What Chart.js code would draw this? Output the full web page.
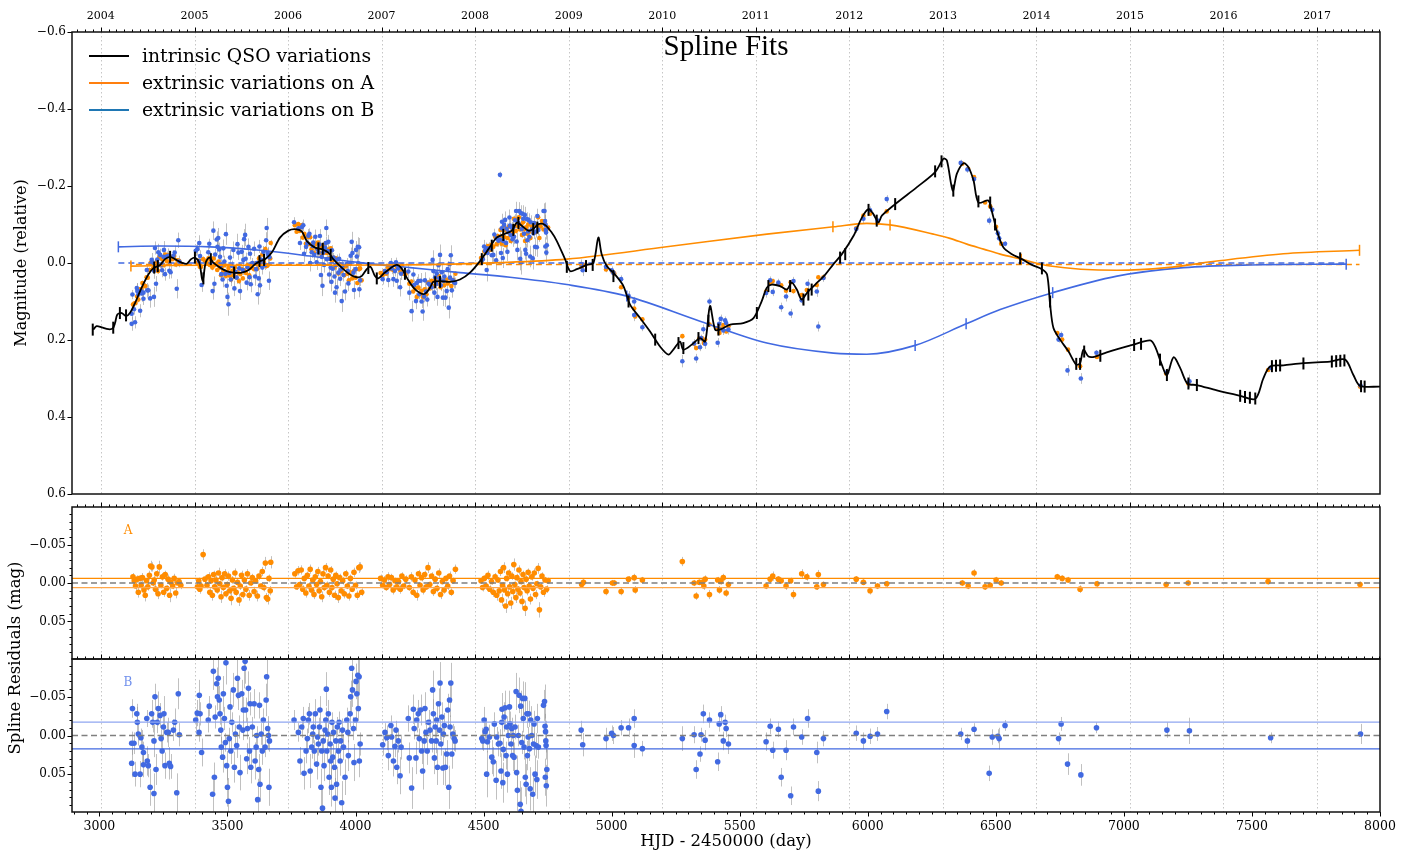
<!DOCTYPE html>
<html><head><meta charset="utf-8">
<script src="https://cdn.jsdelivr.net/npm/chart.js@4.4.1/dist/chart.umd.min.js"></script>
<style>
html,body{margin:0;padding:0;background:#fff;}
#wrap{position:relative;width:1413px;height:854px;overflow:hidden;}
canvas{position:absolute;left:0;top:0;pointer-events:none;}
</style></head><body>
<div id="wrap">
<canvas id="c1" width="1413" height="854"></canvas>
<canvas id="c2" width="1413" height="854"></canvas>
<canvas id="c3" width="1413" height="854"></canvas>
</div>
<script>
// ---------------- DATA ----------------
const yearHJD = [3005.5,3371.5,3736.5,4101.5,4466.5,4832.5,5197.5,5562.5,5927.5,6293.5,6658.5,7023.5,7388.5,7754.5];
const yearLabels = ['2004','2005','2006','2007','2008','2009','2010','2011','2012','2013','2014','2015','2016','2017'];
const magTicks = [-0.6,-0.4,-0.2,0.0,0.2,0.4,0.6];
const resTicks = [-0.05,0.0,0.05];
const resMinor = [-0.09,-0.08,-0.07,-0.06,-0.04,-0.03,-0.02,-0.01,0.01,0.02,0.03,0.04,0.06,0.07,0.08,0.09];
const hjdTicks = [3000,3500,4000,4500,5000,5500,6000,6500,7000,7500,8000];
const legendLabels = ['intrinsic QSO variations','extrinsic variations on A','extrinsic variations on B'];

// intrinsic QSO spline [HJD, mag]
const intrinsic = [[2976,0.173],[2989,0.164],[3009,0.167],[3035,0.172],[3052,0.170],[3061,0.156],[3070,0.134],[3087,0.130],[3104,0.138],[3119,0.130],[3139,0.104],[3165,0.064],[3191,0.030],[3210,0.014],[3237,0.005],[3256,-0.010],[3276,-0.016],[3295,-0.010],[3321,-0.001],[3341,0.002],[3358,-0.010],[3373,-0.014],[3390,-0.001],[3403,0.047],[3415,-0.001],[3429,-0.014],[3445,-0.001],[3471,0.012],[3497,0.021],[3523,0.025],[3556,0.025],[3581,0.019],[3608,0.003],[3627,-0.005],[3647,-0.010],[3673,-0.027],[3705,-0.066],[3738,-0.084],[3764,-0.088],[3790,-0.082],[3810,-0.057],[3842,-0.040],[3868,-0.036],[3894,-0.027],[3913,-0.010],[3946,0.012],[3979,0.030],[4005,0.037],[4024,0.034],[4044,0.016],[4059,0.010],[4076,0.034],[4089,0.040],[4109,0.028],[4135,0.014],[4161,0.005],[4180,0.014],[4200,0.038],[4226,0.064],[4252,0.078],[4271,0.080],[4291,0.064],[4304,0.049],[4330,0.047],[4369,0.049],[4408,0.043],[4447,0.025],[4486,-0.005],[4519,-0.036],[4551,-0.066],[4584,-0.076],[4610,-0.084],[4630,-0.105],[4649,-0.097],[4675,-0.084],[4694,-0.088],[4714,-0.101],[4740,-0.099],[4766,-0.079],[4786,-0.057],[4818,-0.010],[4838,0.021],[4864,0.016],[4903,0.005],[4929,-0.001],[4948,-0.066],[4961,-0.023],[4981,0.008],[5013,0.030],[5046,0.060],[5072,0.108],[5111,0.143],[5150,0.178],[5189,0.217],[5222,0.238],[5241,0.225],[5267,0.204],[5280,0.225],[5313,0.212],[5345,0.195],[5365,0.204],[5384,0.112],[5404,0.173],[5423,0.173],[5463,0.160],[5514,0.156],[5554,0.143],[5586,0.099],[5606,0.064],[5625,0.056],[5658,0.060],[5684,0.069],[5703,0.051],[5723,0.069],[5742,0.095],[5762,0.078],[5795,0.056],[5834,0.030],[5866,0.003],[5899,-0.023],[5944,-0.070],[5977,-0.118],[6003,-0.140],[6022,-0.127],[6042,-0.105],[6055,-0.123],[6107,-0.153],[6192,-0.197],[6263,-0.236],[6296,-0.271],[6309,-0.266],[6332,-0.188],[6348,-0.232],[6374,-0.259],[6393,-0.249],[6413,-0.214],[6432,-0.157],[6471,-0.162],[6484,-0.136],[6504,-0.084],[6530,-0.040],[6563,-0.023],[6602,-0.010],[6641,0.005],[6680,0.016],[6700,0.030],[6712,0.108],[6725,0.169],[6751,0.199],[6784,0.230],[6814,0.264],[6829,0.260],[6842,0.225],[6862,0.243],[6888,0.243],[6933,0.232],[7037,0.212],[7103,0.201],[7122,0.217],[7148,0.264],[7168,0.291],[7194,0.245],[7220,0.273],[7248,0.313],[7285,0.317],[7363,0.331],[7454,0.345],[7513,0.353],[7545,0.299],[7571,0.269],[7623,0.266],[7701,0.260],[7805,0.256],[7864,0.251],[7896,0.291],[7922,0.319],[8000,0.321]];
const knotsI = [[2974,0.173],[3054,0.168],[3080,0.130],[3104,0.136],[3214,0.012],[3228,0.008],[3276,-0.016],[3373,-0.014],[3406,0.040],[3435,-0.010],[3526,0.025],[3625,-0.005],[3643,-0.008],[3855,-0.038],[3872,-0.037],[3903,-0.021],[4050,0.013],[4083,0.040],[4193,0.028],[4311,0.050],[4330,0.049],[4493,-0.010],[4532,-0.045],[4577,-0.073],[4616,-0.086],[4636,-0.104],[4694,-0.088],[4710,-0.092],[4825,0.010],[4900,0.008],[4926,0.005],[5007,0.034],[5066,0.100],[5170,0.199],[5261,0.208],[5280,0.221],[5339,0.195],[5378,0.150],[5417,0.173],[5567,0.130],[5612,0.060],[5697,0.060],[5749,0.095],[5768,0.082],[5781,0.069],[5892,-0.014],[5912,-0.023],[6003,-0.138],[6035,-0.110],[6107,-0.153],[6263,-0.238],[6288,-0.264],[6334,-0.188],[6432,-0.160],[6478,-0.157],[6497,-0.100],[6595,-0.012],[6680,0.014],[6712,0.100],[6814,0.262],[6829,0.262],[6845,0.230],[6908,0.241],[7040,0.213],[7067,0.210],[7141,0.251],[7168,0.291],[7252,0.313],[7285,0.317],[7454,0.345],[7473,0.348],[7492,0.350],[7513,0.352],[7578,0.268],[7594,0.267],[7610,0.266],[7701,0.261],[7812,0.256],[7829,0.255],[7845,0.254],[7861,0.253],[7926,0.320],[7940,0.321]];
// extrinsic (microlensing) splines
const extA = [[3123,0.008],[3393,0.006],[3783,0.006],[4174,0.005],[4564,-0.001],[4825,-0.010],[5215,-0.042],[5606,-0.075],[5866,-0.094],[5996,-0.103],[6087,-0.099],[6256,-0.075],[6321,-0.064],[6387,-0.049],[6452,-0.036],[6517,-0.023],[6599,-0.010],[6712,0.008],[6973,0.019],[7168,0.012],[7363,-0.005],[7623,-0.024],[7920,-0.033]];
const knotsA = [[3123,0.008],[5864,-0.094],[6087,-0.099],[6599,-0.010],[7920,-0.033]];
const extB = [[3074,-0.042],[3237,-0.044],[3432,-0.042],[3627,-0.033],[3822,-0.018],[4018,-0.001],[4213,0.012],[4408,0.025],[4603,0.037],[4825,0.056],[5059,0.086],[5345,0.151],[5606,0.208],[5866,0.234],[5996,0.237],[6185,0.214],[6384,0.158],[6517,0.121],[6722,0.077],[6973,0.034],[7233,0.012],[7493,0.005],[7868,0.003]];
const knotsB = [[3074,-0.042],[5059,0.086],[6185,0.214],[6384,0.158],[6722,0.077],[7868,0.003]];
const zeroA = [[3123,0.004],[7920,0.004]];
const zeroB = [[3074,0.0],[7868,0.0]];
const resBandA = [-0.006,0.006];
const resBandB = [-0.0174,0.0174];

// observations of image A: [HJD, mag (top panel), spline residual, error]
const obsA = [
[3131,0.108,-0.008,0.005],[3136,0.105,-0.003,0.004],[3141,0.104,0.004,0.006],[3147,0.087,-0.005,0.005],[3152,0.095,0.012,0.007],[3158,0.068,-0.006,0.004],[3163,0.068,0.003,0.005],[3168,0.052,-0.007,0.006],[3174,0.060,0.009,0.005],[3179,0.060,0.016,0.008],[3184,0.037,-0.003,0.004],[3189,0.038,0.005,0.005],[3195,0.018,-0.010,0.006],[3200,0.000,-0.022,0.007],[3205,-0.004,-0.021,0.006],[3210,0.014,0.000,0.004],[3214,0.007,-0.004,0.005],[3219,0.018,0.008,0.006],[3224,-0.003,-0.012,0.005],[3229,0.021,0.014,0.007],[3234,-0.015,-0.021,0.008],[3240,0.006,0.003,0.004],[3246,-0.010,-0.008,0.005],[3251,0.006,0.012,0.006],[3257,-0.022,-0.011,0.005],[3263,-0.005,0.007,0.004],[3268,-0.020,-0.005,0.006],[3274,0.000,0.016,0.009],[3279,-0.016,-0.001,0.005],[3286,-0.010,0.004,0.004],[3292,-0.018,-0.006,0.006],[3298,0.004,0.013,0.007],[3305,-0.007,0.000,0.005],[3311,-0.006,-0.002,0.004],[3318,0.002,0.003,0.005],
[3383,0.000,0.005,0.005],[3388,-0.006,-0.003,0.004],[3392,0.010,0.008,0.006],[3397,0.010,0.004,0.005],[3405,-0.010,-0.037,0.007],[3412,-0.006,-0.005,0.005],[3420,0.000,0.003,0.004],[3426,-0.012,-0.008,0.006],[3431,0.005,0.012,0.005],[3436,-0.008,-0.003,0.004],[3441,0.012,0.016,0.007],[3446,-0.012,-0.011,0.005],[3450,0.006,0.005,0.004],[3455,0.002,-0.004,0.006],[3460,0.018,0.009,0.005],[3465,-0.004,-0.013,0.007],[3470,0.012,0.001,0.004],[3475,0.032,0.018,0.008],[3479,0.008,-0.007,0.005],[3484,0.022,0.006,0.004],[3489,0.006,-0.012,0.006],[3494,0.034,0.014,0.005],[3499,0.023,0.002,0.004],[3504,0.013,-0.009,0.006],[3509,0.033,0.010,0.005],[3514,0.043,0.020,0.009],[3519,0.020,-0.004,0.005],[3524,0.032,0.007,0.004],[3529,0.012,-0.013,0.006],[3534,0.037,0.012,0.005],[3539,0.024,-0.001,0.004],[3545,0.047,0.022,0.008],[3550,0.029,0.004,0.005],[3555,0.015,-0.010,0.006],[3560,0.040,0.015,0.005],[3566,0.019,-0.004,0.004],[3572,0.026,0.008,0.005],[3578,0.006,-0.012,0.006],[3585,0.032,0.016,0.007],[3591,0.013,0.000,0.004],[3597,0.002,-0.007,0.005],[3604,0.016,0.011,0.006],[3610,0.001,-0.003,0.004],[3617,0.015,0.017,0.007],[3623,-0.012,-0.009,0.005],[3630,-0.002,0.004,0.004],[3636,-0.022,-0.015,0.006],[3642,-0.002,0.006,0.005],[3648,-0.036,-0.026,0.008],[3652,0.008,0.019,0.006],[3657,0.006,0.021,0.007],[3662,-0.024,-0.006,0.005],[3667,-0.012,0.010,0.006],[3669,-0.052,-0.027,0.008],
[3763,-0.098,-0.012,0.005],[3770,-0.081,0.005,0.004],[3776,-0.101,-0.016,0.006],[3782,-0.083,0.002,0.005],[3788,-0.098,-0.017,0.006],[3794,-0.066,0.008,0.005],[3800,-0.076,-0.006,0.004],[3806,-0.050,0.013,0.006],[3812,-0.068,-0.010,0.005],[3818,-0.049,0.004,0.004],[3823,-0.067,-0.018,0.006],[3828,-0.036,0.009,0.005],[3833,-0.047,-0.004,0.004],[3838,-0.026,0.015,0.006],[3843,-0.049,-0.008,0.005],[3848,-0.037,0.002,0.004],[3853,-0.053,-0.015,0.006],[3858,-0.027,0.010,0.005],[3863,-0.039,-0.002,0.004],[3868,-0.018,0.018,0.007],[3873,-0.046,-0.012,0.005],[3878,-0.027,0.006,0.004],[3883,-0.051,-0.020,0.006],[3888,-0.026,0.003,0.005],[3893,-0.035,-0.009,0.004],[3898,-0.012,0.012,0.006],[3903,-0.038,-0.017,0.005],[3908,-0.006,0.006,0.004],[3913,-0.014,-0.005,0.005],[3918,0.011,0.016,0.006],[3923,-0.012,-0.010,0.005],[3928,0.004,0.001,0.004],[3933,0.027,0.019,0.007],[3938,0.003,-0.007,0.005],[3944,0.021,0.010,0.004],[3950,0.013,-0.003,0.005],[3956,0.032,0.014,0.006],[3962,0.009,-0.012,0.005],[3968,0.028,0.004,0.004],[3974,0.045,0.017,0.006],[3980,0.024,-0.006,0.005],[3987,0.040,0.008,0.004],[3994,0.020,-0.014,0.006],[4000,0.038,0.003,0.005],[4007,0.052,0.016,0.006],[4013,0.016,-0.020,0.007],[4018,0.014,-0.021,0.006],[4024,0.045,0.012,0.005],
[4098,0.026,-0.006,0.005],[4106,0.032,0.003,0.004],[4113,0.021,-0.004,0.005],[4120,0.028,0.006,0.004],[4127,0.011,-0.008,0.006],[4133,0.016,0.002,0.004],[4140,0.005,-0.007,0.005],[4147,0.018,0.009,0.006],[4154,0.003,-0.003,0.004],[4161,0.010,0.005,0.005],[4168,0.007,-0.002,0.004],[4175,0.020,0.008,0.006],[4181,0.006,-0.009,0.005],[4188,0.028,0.004,0.004],[4196,0.028,-0.005,0.005],[4210,0.054,0.006,0.004],[4218,0.048,-0.008,0.006],[4225,0.074,0.012,0.005],[4232,0.064,-0.004,0.004],[4239,0.088,0.016,0.007],[4246,0.064,-0.012,0.005],[4252,0.081,0.003,0.004],[4258,0.072,-0.007,0.005],[4264,0.089,0.009,0.006],[4270,0.068,-0.011,0.005],[4277,0.081,0.005,0.004],[4283,0.051,-0.020,0.007],[4290,0.066,0.002,0.004],[4297,0.046,-0.009,0.005],[4304,0.060,0.011,0.006],[4311,0.044,-0.005,0.004],[4318,0.054,0.007,0.005],[4325,0.034,-0.013,0.006],[4332,0.063,0.015,0.006],[4339,0.046,-0.002,0.004],[4346,0.058,0.009,0.005],[4353,0.043,-0.006,0.004],[4360,0.053,0.004,0.005],[4367,0.040,-0.009,0.006],[4374,0.060,0.012,0.005],[4381,0.044,-0.003,0.004],[4390,0.028,-0.018,0.006],
[4490,-0.013,-0.003,0.004],[4496,-0.012,0.006,0.005],[4503,-0.030,-0.006,0.004],[4510,-0.026,0.004,0.005],[4517,-0.044,-0.010,0.006],[4524,-0.034,0.008,0.005],[4531,-0.047,-0.002,0.004],[4538,-0.042,0.012,0.006],[4545,-0.068,-0.008,0.005],[4551,-0.049,0.016,0.007],[4556,-0.070,-0.004,0.004],[4561,-0.058,0.010,0.005],[4566,-0.086,-0.015,0.006],[4570,-0.050,0.022,0.008],[4574,-0.070,0.003,0.004],[4578,-0.095,-0.020,0.007],[4582,-0.067,0.009,0.005],[4586,-0.046,0.030,0.009],[4590,-0.084,-0.006,0.004],[4594,-0.065,0.014,0.006],[4598,-0.094,-0.013,0.005],[4602,-0.078,0.005,0.004],[4606,-0.057,0.026,0.008],[4610,-0.093,-0.009,0.005],[4614,-0.078,0.011,0.006],[4618,-0.115,-0.024,0.008],[4622,-0.096,0.002,0.004],[4626,-0.083,0.019,0.007],[4630,-0.112,-0.007,0.005],[4634,-0.096,0.008,0.004],[4638,-0.119,-0.017,0.006],[4642,-0.087,0.013,0.005],[4646,-0.100,-0.002,0.004],[4650,-0.073,0.024,0.008],[4654,-0.106,-0.011,0.005],[4658,-0.087,0.006,0.004],[4662,-0.057,0.033,0.010],[4666,-0.093,-0.005,0.005],[4670,-0.076,0.010,0.006],[4674,-0.100,-0.014,0.005],[4678,-0.081,0.004,0.004],[4683,-0.065,0.021,0.007],[4688,-0.095,-0.008,0.005],[4693,-0.080,0.007,0.004],[4698,-0.103,-0.013,0.006],[4703,-0.080,0.015,0.006],[4708,-0.097,0.001,0.004],[4713,-0.119,-0.019,0.007],[4718,-0.065,0.035,0.010],[4723,-0.095,0.005,0.005],[4728,-0.109,-0.009,0.005],[4734,-0.087,0.012,0.006],[4740,-0.102,-0.004,0.004],[4746,-0.087,0.008,0.005],[4752,-0.092,-0.003,0.004],
[4883,0.010,0.002,0.004],[4890,0.005,-0.001,0.004],[4978,0.017,0.011,0.005],[5003,0.023,0.000,0.004],[5010,0.027,0.000,0.004],[5037,0.063,0.011,0.005],[5066,0.090,-0.005,0.004],[5088,0.118,-0.007,0.005],[5092,0.139,0.009,0.005],[5120,0.146,-0.004,0.004],[5276,0.190,-0.028,0.006],[5322,0.210,0.000,0.004],[5330,0.221,0.017,0.005],[5342,0.196,-0.001,0.004],[5352,0.195,-0.001,0.004],[5360,0.208,0.004,0.005],[5365,0.199,-0.005,0.005],[5382,0.160,0.015,0.006],[5414,0.169,-0.004,0.004],[5421,0.182,0.009,0.005],[5426,0.170,-0.002,0.004],[5436,0.161,-0.007,0.005],[5447,0.178,0.013,0.005],[5456,0.164,0.002,0.004],[5603,0.074,0.004,0.004],[5619,0.052,-0.005,0.005],[5629,0.047,-0.009,0.006],[5651,0.054,-0.005,0.004],[5662,0.058,-0.003,0.004],[5681,0.072,0.004,0.005],[5699,0.050,-0.003,0.004],[5710,0.073,0.015,0.006],[5742,0.083,-0.012,0.006],[5762,0.070,-0.008,0.005],[5801,0.057,0.005,0.004],[5807,0.037,-0.011,0.006],[5827,0.037,0.002,0.004],[5955,-0.090,-0.005,0.004],[5983,-0.123,-0.001,0.004],[6009,-0.128,0.010,0.005],[6038,-0.104,0.004,0.004],[6074,-0.134,0.001,0.004],[6369,-0.258,0.000,0.004],[6392,-0.245,0.004,0.004],[6415,-0.223,-0.013,0.005],[6458,-0.157,0.005,0.004],[6478,-0.147,0.003,0.004],[6501,-0.094,-0.004,0.004],[6521,-0.050,0.000,0.004],[6740,0.182,-0.008,0.004],[6759,0.199,-0.006,0.004],[6782,0.225,-0.004,0.004],[6829,0.268,0.008,0.005],[6895,0.244,0.001,0.004],[7165,0.287,0.002,0.004],[7251,0.313,0.000,0.004],[7563,0.278,-0.002,0.004],[7922,0.321,0.002,0.004]
];

// observations of image B: [HJD, mag (top panel), spline residual, error]
const obsB = [
[3126,0.132,0.010,0.015],[3129,0.082,-0.035,0.012],[3135,0.120,0.010,0.014],[3126,0.158,0.036,0.018],[3139,0.154,0.050,0.016],[3146,0.065,-0.028,0.013],[3148,0.073,-0.017,0.020],[3152,0.082,-0.002,0.015],[3159,0.124,0.050,0.017],[3162,0.073,0.003,0.012],[3166,0.079,0.015,0.022],[3172,0.077,0.022,0.014],[3172,0.093,0.038,0.016],[3185,0.018,-0.022,0.011],[3187,0.071,0.033,0.019],[3191,0.071,0.039,0.015],[3198,0.092,0.067,0.024],[3204,-0.008,-0.028,0.018],[3208,-0.001,-0.017,0.013],[3213,0.020,0.007,0.021],[3213,0.088,0.075,0.026],[3217,-0.039,-0.050,0.017],[3221,0.054,0.044,0.020],[3226,-0.009,-0.017,0.014],[3230,-0.028,-0.035,0.022],[3237,-0.021,-0.026,0.016],[3241,0.006,0.004,0.012],[3245,0.019,0.020,0.018],[3250,-0.016,-0.011,0.015],[3252,-0.034,-0.028,0.023],[3256,0.029,0.039,0.017],[3263,-0.017,-0.004,0.013],[3269,-0.019,-0.004,0.019],[3273,0.020,0.036,0.021],[3278,0.024,0.040,0.016],[3289,-0.019,-0.007,0.014],[3294,-0.027,-0.017,0.018],[3302,0.067,0.074,0.025],[3308,-0.059,-0.054,0.020],[3312,-0.004,-0.001,0.015],
[3376,-0.032,-0.020,0.014],[3382,-0.036,-0.029,0.017],[3393,-0.018,-0.028,0.015],[3389,-0.005,-0.004,0.012],[3390,-0.052,-0.052,0.020],[3399,0.057,0.022,0.018],[3425,-0.028,-0.020,0.016],[3429,-0.050,-0.038,0.013],[3445,-0.084,-0.083,0.024],[3449,0.054,0.054,0.019],[3452,-0.022,-0.024,0.015],[3442,0.073,0.076,0.022],[3458,-0.061,-0.067,0.021],[3461,-0.042,-0.050,0.017],[3464,-0.065,-0.074,0.026],[3468,-0.035,-0.046,0.018],[3471,-0.016,-0.028,0.014],[3474,0.006,-0.007,0.016],[3476,0.029,0.015,0.013],[3481,0.043,0.028,0.020],[3484,-0.038,-0.054,0.023],[3488,-0.004,-0.022,0.015],[3492,0.028,0.009,0.012],[3494,-0.075,-0.094,0.028],[3497,0.059,0.039,0.019],[3500,0.088,0.067,0.025],[3504,0.107,0.085,0.030],[3507,0.026,0.004,0.014],[3510,-0.014,-0.037,0.021],[3513,0.043,0.020,0.017],[3517,0.007,-0.017,0.013],[3523,-0.034,-0.059,0.022],[3527,0.066,0.041,0.020],[3531,0.023,-0.002,0.012],[3536,0.038,0.013,0.016],[3539,-0.049,-0.074,0.027],[3543,-0.027,-0.052,0.019],[3546,0.014,-0.011,0.015],[3549,0.073,0.048,0.023],[3556,-0.029,-0.054,0.018],[3560,0.018,-0.007,0.013],[3562,-0.008,-0.033,0.017],[3565,-0.062,-0.087,0.026],[3569,-0.073,-0.096,0.029],[3571,-0.011,-0.033,0.016],[3575,0.051,0.030,0.020],[3578,0.011,-0.009,0.014],[3582,-0.042,-0.061,0.022],[3586,0.037,0.020,0.018],[3588,-0.024,-0.041,0.015],[3591,0.055,0.041,0.021],[3597,0.000,-0.011,0.013],[3604,-0.037,-0.041,0.019],[3608,0.035,0.033,0.024],[3612,0.016,0.015,0.016],[3614,0.000,0.000,0.012],[3618,0.081,0.083,0.027],[3622,0.040,0.044,0.020],[3625,-0.043,-0.039,0.017],[3627,0.058,0.063,0.023],[3632,-0.008,-0.002,0.014],[3636,0.012,0.020,0.018],[3640,-0.029,-0.020,0.015],[3647,0.005,0.015,0.013],[3651,-0.059,-0.046,0.021],[3653,-0.091,-0.076,0.026],[3657,-0.026,-0.009,0.016],[3660,-0.020,0.000,0.019],[3662,0.046,0.067,0.024],[3664,-0.015,0.007,0.014],
[3760,-0.106,-0.020,0.013],[3777,-0.090,-0.004,0.012],[3783,-0.052,0.033,0.018],[3790,-0.093,-0.011,0.014],[3796,-0.098,-0.022,0.015],[3799,-0.024,0.049,0.021],[3807,-0.042,0.020,0.016],[3812,-0.051,0.004,0.013],[3816,-0.071,-0.020,0.017],[3820,-0.076,-0.028,0.014],[3823,0.000,0.046,0.022],[3829,-0.028,0.015,0.015],[3833,-0.044,-0.002,0.012],[3835,-0.053,-0.011,0.016],[3839,-0.021,0.020,0.014],[3843,-0.068,-0.028,0.019],[3848,-0.002,0.037,0.020],[3852,-0.036,0.002,0.013],[3855,-0.027,0.011,0.015],[3859,-0.048,-0.011,0.012],[3861,-0.070,-0.033,0.018],[3865,0.031,0.067,0.024],[3868,-0.016,0.020,0.016],[3871,0.059,0.094,0.027],[3874,-0.027,0.007,0.014],[3877,0.005,0.039,0.020],[3881,-0.040,-0.007,0.013],[3884,-0.052,-0.020,0.016],[3886,-0.091,-0.060,0.022],[3888,-0.010,0.020,0.015],[3891,-0.031,-0.002,0.012],[3894,-0.055,-0.028,0.018],[3897,0.030,0.054,0.023],[3901,-0.011,0.011,0.014],[3903,0.012,0.033,0.019],[3906,0.049,0.067,0.025],[3908,-0.033,-0.017,0.013],[3911,0.015,0.028,0.017],[3914,-0.014,-0.004,0.012],[3918,0.035,0.041,0.020],[3920,0.077,0.081,0.026],[3923,0.005,0.007,0.014],[3926,0.063,0.063,0.022],[3929,-0.009,-0.011,0.013],[3933,0.025,0.020,0.016],[3936,-0.011,-0.017,0.014],[3940,0.041,0.033,0.019],[3942,0.017,0.007,0.013],[3946,0.099,0.087,0.028],[3949,0.007,-0.007,0.015],[3953,0.031,0.015,0.017],[3959,0.074,0.054,0.023],[3966,0.003,-0.020,0.016],[3970,0.021,-0.004,0.013],[3972,0.053,0.026,0.020],[3979,0.002,-0.028,0.017],[3981,-0.019,-0.050,0.021],[3985,-0.055,-0.087,0.026],[3988,-0.026,-0.059,0.022],[3992,0.025,-0.009,0.015],[3994,0.070,0.035,0.024],[4000,0.016,-0.020,0.014],[4002,-0.034,-0.070,0.023],[4005,-0.017,-0.054,0.019],[4009,-0.042,-0.078,0.025],[4011,0.001,-0.035,0.016],[4014,-0.041,-0.076,0.024],[4015,0.068,0.033,0.021],[4018,0.045,0.011,0.015],
[4106,0.042,0.012,0.014],[4115,0.021,-0.004,0.012],[4122,0.024,0.003,0.016],[4128,0.044,0.026,0.019],[4138,0.000,-0.013,0.013],[4141,0.014,0.002,0.015],[4148,0.042,0.033,0.020],[4154,0.021,0.014,0.014],[4158,-0.002,-0.007,0.012],[4161,0.046,0.041,0.022],[4167,0.014,0.007,0.015],[4174,0.063,0.052,0.024],[4178,0.028,0.015,0.016],[4206,0.022,-0.022,0.017],[4210,0.077,0.029,0.020],[4219,0.125,0.068,0.027],[4226,0.030,-0.034,0.019],[4229,0.057,-0.009,0.014],[4236,0.099,0.029,0.021],[4239,0.052,-0.020,0.016],[4245,0.047,-0.028,0.018],[4249,0.081,0.004,0.013],[4254,0.046,-0.033,0.020],[4258,0.100,0.020,0.017],[4262,0.126,0.046,0.024],[4268,0.087,0.007,0.015],[4271,0.045,-0.035,0.021],[4275,0.074,-0.004,0.013],[4280,0.095,0.020,0.018],[4285,0.054,-0.017,0.016],[4291,0.057,-0.007,0.014],[4297,0.063,0.007,0.015],[4301,-0.008,-0.059,0.025],[4304,0.021,-0.028,0.019],[4308,0.077,0.029,0.021],[4311,0.037,-0.011,0.014],[4315,0.054,0.007,0.016],[4317,0.027,-0.020,0.018],[4320,0.088,0.041,0.023],[4324,0.006,-0.041,0.020],[4328,0.040,-0.007,0.013],[4330,-0.021,-0.068,0.027],[4333,0.058,0.011,0.015],[4337,0.024,-0.024,0.019],[4341,0.090,0.042,0.022],[4343,0.046,-0.002,0.012],[4347,0.035,-0.013,0.016],[4351,0.090,0.041,0.024],[4356,0.073,0.024,0.018],[4360,0.016,-0.033,0.021],[4364,0.116,0.067,0.028],[4367,0.003,-0.046,0.022],[4369,0.038,-0.011,0.015],[4372,-0.020,-0.068,0.026],[4376,0.071,0.024,0.019],[4380,0.045,-0.002,0.013],[4385,0.050,0.004,0.016],[4389,0.052,0.007,0.014],
[4493,-0.008,0.004,0.014],[4497,-0.010,0.007,0.013],[4502,-0.043,-0.020,0.017],[4506,-0.032,-0.005,0.012],[4510,-0.038,-0.008,0.015],[4512,0.018,0.050,0.030],[4515,-0.026,0.008,0.014],[4523,-0.038,0.002,0.016],[4532,-0.020,0.028,0.022],[4538,-0.021,0.034,0.019],[4542,-0.074,-0.015,0.015],[4549,-0.007,0.058,0.025],[4551,-0.064,0.002,0.013],[4558,-0.058,0.011,0.016],[4564,-0.061,0.010,0.018],[4564,-0.229,-0.160,0.008],[4568,-0.026,0.046,0.023],[4571,-0.090,-0.017,0.017],[4572,-0.107,-0.034,0.021],[4575,-0.013,0.061,0.026],[4577,-0.057,0.018,0.015],[4580,-0.099,-0.024,0.019],[4584,-0.112,-0.036,0.022],[4588,-0.052,0.026,0.018],[4590,-0.089,-0.011,0.014],[4593,-0.029,0.050,0.024],[4597,-0.080,0.000,0.013],[4601,-0.118,-0.037,0.021],[4603,-0.097,-0.015,0.016],[4607,-0.072,0.011,0.017],[4610,-0.093,-0.009,0.014],[4613,-0.062,0.026,0.020],[4616,-0.092,0.000,0.015],[4619,-0.068,0.028,0.019],[4623,-0.111,-0.011,0.016],[4627,-0.135,-0.057,0.024],[4629,-0.056,0.048,0.022],[4632,-0.034,0.071,0.027],[4636,-0.104,0.000,0.014],[4639,-0.135,-0.052,0.023],[4643,-0.011,0.089,0.030],[4645,-0.130,-0.038,0.020],[4646,-0.001,0.098,0.031],[4649,-0.088,0.009,0.015],[4652,-0.128,-0.048,0.022],[4655,-0.115,-0.022,0.018],[4658,-0.076,0.015,0.016],[4661,-0.125,-0.048,0.021],[4663,-0.034,0.054,0.025],[4666,-0.024,0.063,0.026],[4669,-0.114,-0.028,0.018],[4671,-0.059,0.026,0.019],[4674,-0.082,0.002,0.013],[4676,-0.112,-0.028,0.017],[4679,-0.068,0.017,0.016],[4682,-0.017,0.069,0.028],[4684,-0.106,-0.020,0.018],[4688,-0.087,0.000,0.014],[4692,-0.012,0.076,0.029],[4695,-0.077,0.011,0.015],[4697,-0.104,-0.015,0.017],[4701,-0.042,0.050,0.024],[4705,-0.082,0.013,0.016],[4708,-0.041,0.057,0.025],[4710,-0.122,-0.022,0.019],[4714,-0.086,0.015,0.015],[4734,-0.135,-0.039,0.020],[4738,-0.135,-0.044,0.022],[4740,-0.109,-0.012,0.016],[4742,-0.099,-0.005,0.014],[4743,-0.086,0.007,0.015],[4744,-0.079,0.013,0.018],[4747,-0.046,0.044,0.026],[4745,-0.027,0.065,0.027],[4741,-0.043,0.054,0.024],
[4881,0.003,-0.007,0.012],[4887,0.019,0.012,0.015],[4978,0.010,0.004,0.014],[5000,0.019,-0.003,0.010],[5007,0.026,0.000,0.011],[5037,0.042,-0.010,0.010],[5066,0.085,-0.010,0.012],[5088,0.100,-0.022,0.012],[5088,0.135,0.013,0.016],[5120,0.167,0.017,0.010],[5276,0.255,0.004,0.016],[5322,0.209,-0.001,0.011],[5330,0.248,0.044,0.012],[5345,0.219,0.024,0.010],[5349,0.195,-0.001,0.009],[5358,0.172,-0.028,0.012],[5365,0.210,0.006,0.013],[5382,0.100,-0.020,0.010],[5414,0.207,0.034,0.012],[5420,0.158,-0.015,0.010],[5426,0.145,-0.027,0.011],[5436,0.175,0.007,0.012],[5443,0.149,-0.017,0.010],[5447,0.156,-0.009,0.011],[5456,0.173,0.011,0.013],[5603,0.078,0.008,0.012],[5619,0.045,-0.012,0.010],[5629,0.075,0.019,0.011],[5651,0.051,-0.008,0.010],[5662,0.115,0.054,0.012],[5681,0.087,0.019,0.013],[5699,0.131,0.078,0.012],[5710,0.047,-0.011,0.011],[5742,0.097,0.002,0.010],[5765,0.054,-0.022,0.012],[5801,0.074,0.022,0.014],[5807,0.165,0.072,0.013],[5827,0.039,0.004,0.010],[5955,-0.088,-0.003,0.010],[5983,-0.115,0.007,0.011],[6009,-0.137,0.001,0.010],[6038,-0.110,-0.002,0.009],[6074,-0.166,-0.031,0.010],[6363,-0.260,-0.002,0.008],[6389,-0.243,0.007,0.009],[6415,-0.218,-0.008,0.008],[6474,-0.110,0.049,0.010],[6486,-0.138,0.002,0.010],[6508,-0.077,0.001,0.009],[6513,-0.064,0.004,0.014],[6536,-0.050,-0.013,0.007],[6745,0.199,0.004,0.008],[6755,0.187,-0.015,0.009],[6780,0.279,0.037,0.014],[6832,0.300,0.051,0.014],[6893,0.233,-0.010,0.007],[7168,0.284,-0.007,0.010],[7256,0.307,-0.006,0.017],[7573,0.272,0.003,0.007],[7924,0.318,-0.002,0.013]
];

// ---------------- HELPERS ----------------
Chart.defaults.font.family = "'DejaVu Serif', serif";
Chart.defaults.color = '#000';
const SERIF = "'DejaVu Serif', serif";
const XMIN = 2893, XMAX = 8000;
const pts = (arr, c) => arr.map(r => ({x: r[0], y: r[c === undefined ? 1 : c]}));
const fmt = d => v => (v < -1e-9 ? '\u2212' : '') + Math.abs(v).toFixed(d);
const setTicks = list => s => { s.ticks = list.map(v => ({value: v})); };

const monthTicks = [];
for (let k = 1; 3005.5 - k * 30.4375 > XMIN; k++) monthTicks.push(3005.5 - k * 30.4375);
yearHJD.forEach(y0 => { for (let m = 1; m < 12; m++) { const v = y0 + m * 30.4375; if (v < XMAX) monthTicks.push(v); } });
const hjdMinor = [];
for (let v = 2900; v <= XMAX; v += 50) hjdMinor.push(v);

function decor(cfg) {
  return {
    id: 'decor',
    beforeDatasetsDraw(chart) {
      const {ctx, chartArea: a} = chart; const xs = chart.scales.x, ys = chart.scales.y;
      ctx.save();
      ctx.beginPath(); ctx.rect(a.left, a.top, a.right - a.left, a.bottom - a.top); ctx.clip();
      ctx.lineWidth = 1; ctx.strokeStyle = '#c6c6c6'; ctx.setLineDash([1.5, 2.5]);
      yearHJD.forEach(v => { const px = Math.round(xs.getPixelForValue(v)) + 0.5;
        ctx.beginPath(); ctx.moveTo(px, a.top); ctx.lineTo(px, a.bottom); ctx.stroke(); });
      ctx.setLineDash([]); ctx.strokeStyle = 'rgba(150,150,150,0.6)'; ctx.lineWidth = 1;
      cfg.errs.forEach(([rows, col]) => {
        ctx.beginPath();
        rows.forEach(r => { const px = Math.round(xs.getPixelForValue(r[0])) + 0.5;
          ctx.moveTo(px, ys.getPixelForValue(r[col] - r[3])); ctx.lineTo(px, ys.getPixelForValue(r[col] + r[3])); });
        ctx.stroke();
      });
      ctx.restore();
    },
    afterDraw(chart) {
      const {ctx, chartArea: a} = chart; const xs = chart.scales.x, ys = chart.scales.y;
      ctx.save();
      ctx.strokeStyle = '#000'; ctx.lineWidth = 1;
      const seg = (x1, y1, x2, y2) => { ctx.beginPath(); ctx.moveTo(x1, y1); ctx.lineTo(x2, y2); ctx.stroke(); };
      cfg.yMajor.forEach(v => { const py = Math.round(ys.getPixelForValue(v)) + 0.5; seg(a.left, py, a.left - 4.5, py); });
      (cfg.yMinor || []).forEach(v => { const py = Math.round(ys.getPixelForValue(v)) + 0.5; seg(a.left, py, a.left - 2.5, py); });
      yearHJD.forEach(v => { const px = Math.round(xs.getPixelForValue(v)) + 0.5; seg(px, a.top, px, a.top - 4.5); });
      monthTicks.forEach(v => { const px = Math.round(xs.getPixelForValue(v)) + 0.5; seg(px, a.top, px, a.top - 2.5); });
      if (cfg.bottom) {
        hjdTicks.forEach(v => { const px = Math.round(xs.getPixelForValue(v)) + 0.5; seg(px, a.bottom, px, a.bottom + 4.5); });
        hjdMinor.forEach(v => { const px = Math.round(xs.getPixelForValue(v)) + 0.5; seg(px, a.bottom, px, a.bottom + 2.5); });
      }
      ctx.lineWidth = 1.5; ctx.strokeStyle = '#111';
      ctx.strokeRect(a.left, a.top, a.right - a.left, a.bottom - a.top);
      if (cfg.texts) cfg.texts(ctx, a);
      ctx.restore();
    }
  };
}

const baseOpts = (pad) => ({
  responsive: false, animation: false, events: [],
  layout: {padding: pad},
  plugins: {legend: {display: false}, tooltip: {enabled: false}}
});
const yAxis = (min, max, ticks, dec, title) => ({
  type: 'linear', reverse: true, min, max,
  afterBuildTicks: setTicks(ticks), afterFit: s => { s.width = 72; },
  grid: {display: false, drawTicks: false}, border: {display: false},
  ticks: {padding: 6, font: {size: 12, family: SERIF}, color: '#000', callback: fmt(dec), autoSkip: false},
  title: title ? {display: true, text: title, font: {size: 16, family: SERIF}, color: '#000', padding: {top: 12, bottom: 0}} : {display: false}
});
const scatterDS = (data, color, r, order) => ({type: 'line', data, showLine: false, pointRadius: r, pointBackgroundColor: color, pointBorderWidth: 0, pointHoverRadius: r, order, clip: 0});
const lineDS = (data, color, w, order, extra) => Object.assign({type: 'line', data, borderColor: color, borderWidth: w, pointRadius: 0, fill: false, order}, extra || {});
const knotDS = (data, color, r, w, order) => ({type: 'line', data, showLine: false, pointStyle: 'line', pointRotation: 90, pointRadius: r, pointBorderColor: color, pointBorderWidth: w, order});

// ---------------- TOP PANEL ----------------
new Chart(document.getElementById('c1'), {
  type: 'line',
  data: {datasets: [
    knotDS(pts(knotsI), '#000', 6, 2, 0),
    lineDS(pts(intrinsic), '#000', 1.8, 1, {tension: 0.3}),
    knotDS(pts(knotsA), '#ff8c00', 5.5, 1.5, 2),
    knotDS(pts(knotsB), '#4169e1', 5.5, 1.5, 2),
    lineDS(pts(extA), '#ff8c00', 1.6, 3, {cubicInterpolationMode: 'monotone'}),
    lineDS(pts(extB), '#4169e1', 1.6, 3, {cubicInterpolationMode: 'monotone'}),
    lineDS(pts(zeroB), '#4169e1', 1.6, 4, {borderDash: [6, 4]}),
    lineDS(pts(zeroA), '#ff8c00', 1.6, 4, {borderDash: [6, 4], borderDashOffset: 5}),
    scatterDS(pts(obsB), '#4169e1', 2.3, 5),
    scatterDS(pts(obsA), '#ff8c00', 2.3, 6)
  ]},
  options: Object.assign(baseOpts({left: 0, right: 33, top: 0, bottom: 360}), {
    scales: {
      x: {type: 'linear', min: XMIN, max: XMAX, display: false},
      xYear: {type: 'linear', position: 'top', min: XMIN, max: XMAX,
        afterBuildTicks: setTicks(yearHJD), afterFit: s => { s.height = 32; },
        grid: {display: false, drawTicks: false}, border: {display: false},
        ticks: {autoSkip: false, maxRotation: 0, padding: 9, font: {size: 11, family: SERIF}, color: '#000',
          callback: (v, i) => yearLabels[i]}},
      y: yAxis(-0.6, 0.6, magTicks, 1, 'Magnitude (relative)')
    }
  }),
  plugins: [decor({errs: [[obsA, 1], [obsB, 1]], yMajor: magTicks, texts: (ctx) => {
    ctx.fillStyle = '#000'; ctx.textAlign = 'center'; ctx.textBaseline = 'middle';
    ctx.font = "29px 'Liberation Serif', serif"; ctx.fillText('Spline Fits', 726, 47);
    const cols = ['#000', '#ff7f0e', '#1f77b4'];
    ctx.textAlign = 'left'; ctx.font = "18.8px " + SERIF;
    legendLabels.forEach((t, i) => { const y = 56 + 27 * i;
      ctx.strokeStyle = cols[i]; ctx.lineWidth = 2; ctx.beginPath(); ctx.moveTo(89, y); ctx.lineTo(129, y); ctx.stroke();
      ctx.fillStyle = '#000'; ctx.fillText(t, 142, y + 1); });
  }})]
});

// ---------------- RESIDUALS A ----------------
new Chart(document.getElementById('c2'), {
  type: 'line',
  data: {datasets: [
    lineDS([{x: XMIN, y: 0}, {x: XMAX, y: 0}], '#7f7f7f', 1.6, 1, {borderDash: [6, 3.5]}),
    lineDS([{x: XMIN, y: resBandA[0]}, {x: XMAX, y: resBandA[0]}], '#ff8c00', 1.3, 2),
    lineDS([{x: XMIN, y: resBandA[1]}, {x: XMAX, y: resBandA[1]}], '#ffa64a', 1.3, 2),
    scatterDS(pts(obsA, 2), '#ff8c00', 2.8, 3)
  ]},
  options: Object.assign(baseOpts({left: 0, right: 33, top: 507, bottom: 195}), {
    scales: {
      x: {type: 'linear', min: XMIN, max: XMAX, display: false},
      y: yAxis(-0.099, 0.099, resTicks, 2, null)
    }
  }),
  plugins: [decor({errs: [[obsA, 2]], yMajor: resTicks, yMinor: resMinor, texts: (ctx) => {
    ctx.fillStyle = '#ff8c00'; ctx.font = "12px " + SERIF; ctx.textAlign = 'center'; ctx.textBaseline = 'middle';
    ctx.fillText('A', 128, 531);
  }})]
});

// ---------------- RESIDUALS B ----------------
new Chart(document.getElementById('c3'), {
  type: 'line',
  data: {datasets: [
    lineDS([{x: XMIN, y: 0}, {x: XMAX, y: 0}], '#7f7f7f', 1.6, 1, {borderDash: [6, 3.5]}),
    lineDS([{x: XMIN, y: resBandB[0]}, {x: XMAX, y: resBandB[0]}], '#8fa6f0', 1.3, 2),
    lineDS([{x: XMIN, y: resBandB[1]}, {x: XMAX, y: resBandB[1]}], '#4169e1', 1.3, 2),
    scatterDS(pts(obsB, 2), '#4169e1', 2.8, 3)
  ]},
  options: Object.assign(baseOpts({left: 0, right: 33, top: 659, bottom: 0}), {
    scales: {
      x: {type: 'linear', position: 'bottom', min: XMIN, max: XMAX,
        afterBuildTicks: setTicks(hjdTicks), afterFit: s => { s.height = 42; },
        grid: {display: false, drawTicks: false}, border: {display: false},
        ticks: {autoSkip: false, maxRotation: 0, padding: 7, font: {size: 12.5, family: SERIF}, color: '#000', callback: v => String(v)},
        title: {display: true, text: 'HJD - 2450000 (day)', font: {size: 16.5, family: SERIF}, color: '#000', padding: {top: 0, bottom: 2}}},
      y: yAxis(-0.099, 0.099, resTicks, 2, null)
    }
  }),
  plugins: [decor({errs: [[obsB, 2]], yMajor: resTicks, yMinor: resMinor, bottom: true, texts: (ctx) => {
    ctx.fillStyle = '#6f8fec'; ctx.font = "12px " + SERIF; ctx.textAlign = 'center'; ctx.textBaseline = 'middle';
    ctx.fillText('B', 128, 683);
    ctx.save(); ctx.translate(16, 658); ctx.rotate(-Math.PI / 2);
    ctx.fillStyle = '#000'; ctx.font = "16.5px " + SERIF; ctx.fillText('Spline Residuals (mag)', 0, 0);
    ctx.restore();
  }})]
});
</script>
</body></html>
